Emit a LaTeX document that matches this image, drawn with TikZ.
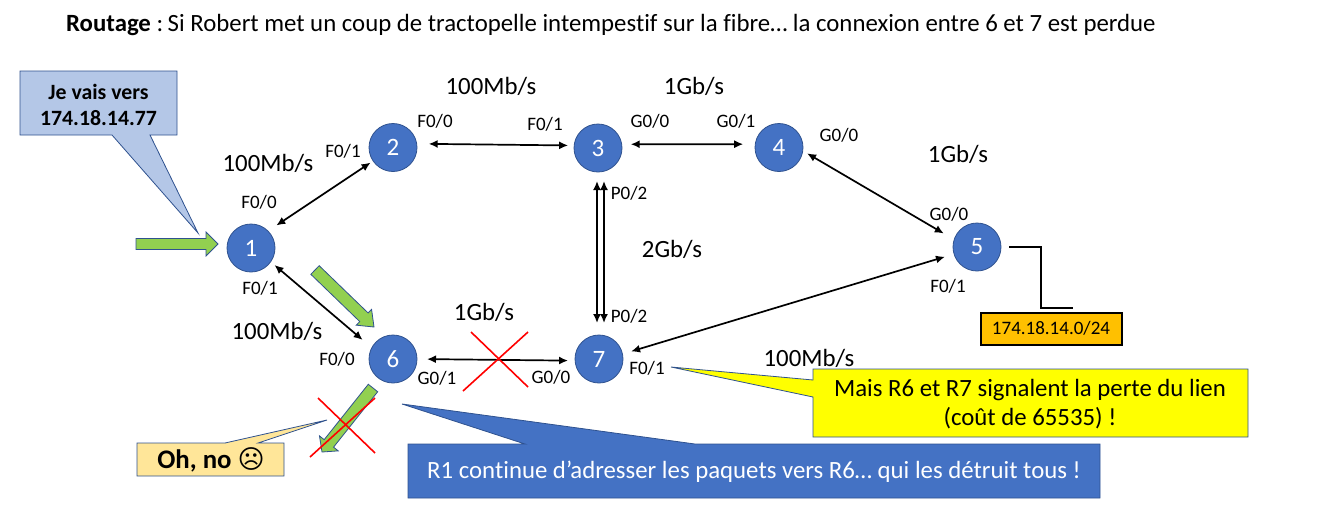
\documentclass[tikz,border=0pt]{standalone}
\usepackage{fontspec}
\setmainfont[Ligatures=NoCommon]{Carlito}
\newfontfamily\symfont{DejaVu Sans}
\usetikzlibrary{calc,arrows.meta}
\definecolor{nodeblue}{HTML}{4472C4}
\definecolor{edgeblue}{HTML}{2F528F}
\definecolor{palebluebox}{HTML}{B4C7E7}
\definecolor{greenfill}{HTML}{92D050}
\definecolor{palegold}{HTML}{FFE699}
\definecolor{netorange}{HTML}{FFC000}
\definecolor{yelbox}{HTML}{FFFF00}
\tikzset{
  router/.style={circle,minimum size=48pt,inner sep=0pt,outer sep=0pt,fill=nodeblue,draw=edgeblue,line width=0.8pt,text=white,font=\fontsize{25}{27}\selectfont},
  link/.style={{Latex[length=9pt,width=8pt]}-{Latex[length=9pt,width=8pt]},line width=1.7pt,black},
  port/.style={inner sep=0pt,font=\fontsize{19}{21}\selectfont},
  speed/.style={inner sep=0pt,font=\fontsize{24.8}{27}\selectfont},
  greenarrow/.style={fill=greenfill,draw=edgeblue,line width=0.8pt,line join=miter},
  cross/.style={red,line width=1.6pt},
  tag/.style={draw=edgeblue,line width=0.8pt,line join=miter}
}
\newcommand{\garrow}[5]{% tail, tip, shaft half-width, head half-width, head length
  \coordinate (gH) at ($(#2)!#5pt!(#1)$);
  \draw[greenarrow] ($(#1)!#3pt!90:(#2)$) -- ($(gH)!#3pt!-90:(#1)$) -- ($(gH)!#4pt!-90:(#1)$) -- (#2)
    -- ($(gH)!#4pt!90:(#1)$) -- ($(gH)!#3pt!90:(#1)$) -- ($(#1)!#3pt!-90:(#2)$) -- cycle;
}
\begin{document}
\begin{tikzpicture}[x=1pt,y=-1pt]
\useasboundingbox (0,0) rectangle (1317,507);
% title
\node[anchor=west,inner sep=0pt,font=\fontsize{24.8}{27}\selectfont] (title) at (66,25) {\textbf{Routage} : \hspace{-3pt}Si Robert met un coup de tractopelle intempestif sur la fibre… la connexion entre 6 et 7 est perdue};
% routers
\node[router] (n1) at (251,248) {1};
\node[router] (n2) at (393,147.5) {2};
\node[router] (n3) at (598,148) {3};
\node[router] (n4) at (779,147.5) {4};
\node[router] (n5) at (977,247) {5};
\node[router] (n6) at (393,359) {6};
\node[router] (n7) at (599,359) {7};
% links
\draw[link,shorten <=10pt,shorten >=3pt] (n1.45) -- (n2.214);
\draw[link,shorten <=5pt,shorten >=12pt] (n1.-35) -- (n6.152);
\draw[link,shorten <=12pt,shorten >=6pt] (n2.9) -- (n3.174);
\draw[link,shorten <=9pt,shorten >=12pt] (n3.9) -- (n4.172);
\draw[link,shorten <=5pt,shorten >=12pt] (n4.-8) -- (n5.162);
\draw[link,shorten <=9pt,shorten >=9.5pt] (n7.12) -- (n5.197);
\draw[link,shorten <=10pt,shorten >=7pt] (n6.0) -- (n7.184);
\draw[link,shorten <=9pt,shorten >=12pt] ($(n3.south)+(-1,0)$) -- ($(n7.north)+(-2,0)$);
\draw[link,shorten <=9pt,shorten >=12pt] ($(n3.south)+(6,0)$) -- ($(n7.north)+(5,0)$);
% network
\node[draw=black,line width=2pt,fill=netorange,minimum width=141pt,minimum height=32pt,inner sep=0pt,font=\fontsize{19}{21}\selectfont] (net) at (1051,328.5) {174.18.14.0/24};
\coordinate (netend) at (1073,308);
\coordinate (netbend) at (1041,308);
\draw[line width=1.5pt,shorten <=8pt] (n5.east) -| (netbend) -- (netend);
% port labels
\node[port] (p10) at (259,202) {F0/0};
\node[port] (p11) at (260,288) {F0/1};
\node[port] (p21) at (343,151) {F0/1};
\node[port] (p20) at (435,121) {F0/0};
\node[port] (p31) at (545,124) {F0/1};
\node[port] (p30) at (650,121) {G0/0};
\node[port] (p41) at (736,121) {G0/1};
\node[port] (p40) at (839,135) {G0/0};
\node[port] (p50) at (949,214) {G0/0};
\node[port] (p51) at (948,286) {F0/1};
\node[port] (p32) at (629,193) {P0/2};
\node[port] (p72) at (629,316) {P0/2};
\node[port] (p60) at (337,359) {F0/0};
\node[port] (p61) at (437,378) {G0/1};
\node[port] (p70) at (551,377) {G0/0};
\node[port] (p7f) at (647,368) {F0/1};
% speeds
\node[speed] (s1) at (268,163) {100Mb/s};
\node[speed] (s2) at (491,86) {100Mb/s};
\node[speed] (s3) at (694,86) {1Gb/s};
\node[speed] (s4) at (958,154) {1Gb/s};
\node[speed] (s5) at (672,249) {2Gb/s};
\node[speed] (s6) at (277,331) {100Mb/s};
\node[speed] (s7) at (484,312) {1Gb/s};
\node[speed] (s8) at (809,358) {100Mb/s};
% green arrows
\coordinate (ga1) at (136,244); \coordinate (gb1) at (218,244);
\garrow{ga1}{gb1}{5.5}{12}{12}
\coordinate (ga2) at (315,270); \coordinate (gb2) at (374,327);
\garrow{ga2}{gb2}{6}{11}{14}
\coordinate (ga3) at (373,388); \coordinate (gb3) at (322,452);
\garrow{ga3}{gb3}{6}{12}{11}
% crosses
\coordinate (ca1) at (471,332); \coordinate (ca2) at (528,387);
\coordinate (ca3) at (528,332); \coordinate (ca4) at (463,391);
\draw[cross] (ca1) -- (ca2) (ca3) -- (ca4);
\coordinate (cb1) at (318,398); \coordinate (cb2) at (375,453);
\coordinate (cb3) at (375,398); \coordinate (cb4) at (310,457);
\draw[cross] (cb1) -- (cb2) (cb3) -- (cb4);
% callout: destination
\draw[tag,fill=palebluebox] (20,71) -- (177,71) -- (177,135) -- (150,135) -- (198,233) -- (112,135) -- (20,135) -- cycle;
\node[inner sep=0pt,align=center,font=\bfseries\fontsize{21.8}{26}\selectfont] (dest) at (98.5,104.5) {Je vais vers\\174.18.14.77};
% callout: oh no
\draw[tag,fill=palegold] (137,443) -- (225,443) -- (327,420) -- (258,443) -- (284,443) -- (284,476) -- (137,476) -- cycle;
\node[inner sep=0pt,font=\bfseries\fontsize{26.8}{28}\selectfont] (oh) at (211,460) {Oh, no {\symfont\fontsize{26}{28}\selectfont ☹}};
% callout: yellow
\draw[tag,fill=yelbox] (813,369) -- (1248,369) -- (1248,437) -- (813,437) -- (813,397) -- (671,367) -- (813,380) -- cycle;
\node[inner sep=0pt,align=center,font=\fontsize{24.8}{29}\selectfont] (mais) at (1030,404) {Mais R6 et R7 signalent la perte du lien\\(coût de 65535) !};
% callout: blue
\draw[tag,fill=nodeblue] (408,444) -- (525,444) -- (402,404) -- (695,444) -- (1100,444) -- (1100,498) -- (408,498) -- cycle;
\node[inner sep=0pt,text=white,font=\fontsize{24.8}{27}\selectfont] (r1) at (754,472) {R1 continue d’adresser les paquets vers R6… qui les détruit tous !};
\end{tikzpicture}
\end{document}
